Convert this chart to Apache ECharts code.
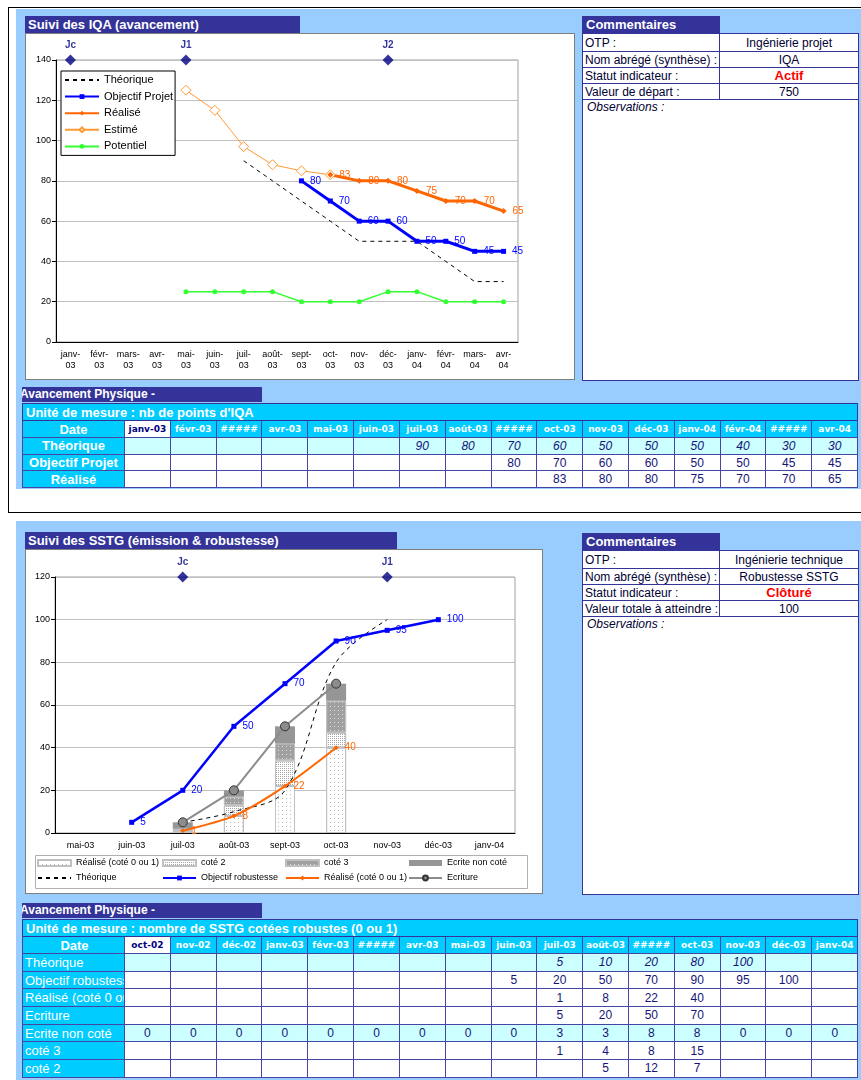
<!DOCTYPE html>
<html lang="fr">
<head>
<meta charset="utf-8">
<title>Suivi des indicateurs</title>
<script src="https://cdn.jsdelivr.net/npm/echarts@6.0.0/dist/echarts.min.js"></script>
<style>
html,body{margin:0;padding:0;background:#fff;}
body{width:861px;height:1080px;position:relative;overflow:hidden;font-family:"Liberation Sans",Arial,sans-serif;}
.fond{position:absolute;background:#99ccff;overflow:hidden;}
.trait{position:absolute;background:#000;}
.barre{position:absolute;background:#333399;color:#fff;font-weight:bold;font-size:13px;line-height:17px;height:17px;white-space:nowrap;overflow:hidden;box-sizing:border-box;padding-left:3px;}
.cadre{position:absolute;background:#fff;border:1px solid #7f7f7f;box-sizing:border-box;}
.graph{position:absolute;left:0;top:0;right:0;bottom:0;}
table{border-collapse:collapse;table-layout:fixed;position:absolute;}
td{padding:0;overflow:hidden;white-space:nowrap;box-sizing:border-box;}
table.com{width:276px;}
table.com td{border:1px solid #333399;font-size:12px;color:#000033;background:#fff;line-height:14px;}
table.com td.tit{background:#333399;color:#fff;font-weight:bold;font-size:13px;padding-left:3px;border-color:#333399;}
table.com td.vide{background:transparent;border:none;}
table.com td.lib{padding-left:2px;}
table.com td.val{text-align:center;}
table.com td.rouge{color:#ff0000;font-weight:bold;font-size:13px;}
table.com td.obs{font-style:italic;vertical-align:top;padding-left:4px;}
table.suivi{width:835px;}
table.suivi td{border:1px solid #4545a5;font-size:12px;color:#14147a;text-align:center;background:#fff;}
table.suivi td.unite{background:#00ccff;color:#fff;font-weight:bold;font-size:13px;text-align:left;padding-left:3px;border-color:#333399;}
table.suivi td.lib{background:#00ccff;color:#fff;font-weight:bold;font-size:13px;}
table.suivi.gauche td.lib{font-weight:normal;text-align:left;padding-left:2px;}
table.suivi td.date{background:#00ccff;color:#fff;font-weight:bold;font-family:"DejaVu Sans",Verdana,sans-serif;font-size:9px;}
table.suivi td.date.prem{background:#fff;color:#000080;}
table.suivi td.clair{background:#ccffff;}
table.suivi td.ital{font-style:italic;}
.titreTab{position:absolute;background:#333399;color:#fff;font-weight:bold;font-size:12px;line-height:15px;height:15px;width:240px;white-space:nowrap;overflow:hidden;text-indent:-2px;}
</style>
</head>
<body>
<script>
// ---------- Suivi des IQA ----------
const moisIQA = ['janv-03','févr-03','mars-03','avr-03','mai-03','juin-03','juil-03','août-03','sept-03','oct-03','nov-03','déc-03','janv-04','févr-04','mars-04','avr-04'];
const enteteIQA = ['janv-03','févr-03','#####','avr-03','mai-03','juin-03','juil-03','août-03','#####','oct-03','nov-03','déc-03','janv-04','févr-04','#####','avr-04'];
const theoIQA = [null,null,null,null,null,null,90,80,70,60,50,50,50,40,30,30];
const objIQA = [null,null,null,null,null,null,null,null,80,70,60,60,50,50,45,45];
const realIQA = [null,null,null,null,null,null,null,null,null,83,80,80,75,70,70,65];
const estimeIQA = [null,null,null,null,125,115,97,88,85,83,null,null,null,null,null,null];
const potentielIQA = [null,null,null,null,25,25,25,25,20,20,20,25,25,20,20,20];
const jalonsIQA = ['Jc','J1','J2'];
const moisJalonsIQA = ['janv-03','mai-03','déc-03'];
const comIQA = [['OTP :','Ingénierie projet'],['Nom abrégé (synthèse) :','IQA'],['Statut indicateur :','Actif'],['Valeur de départ :','750']];

// ---------- Suivi des SSTG ----------
const moisSSTG = ['oct-02','nov-02','déc-02','janv-03','févr-03','mars-03','avr-03','mai-03','juin-03','juil-03','août-03','sept-03','oct-03','nov-03','déc-03','janv-04'];
const enteteSSTG = ['oct-02','nov-02','déc-02','janv-03','févr-03','#####','avr-03','mai-03','juin-03','juil-03','août-03','#####','oct-03','nov-03','déc-03','janv-04'];
const debutGraphSSTG = 'mai-03';
const theoSSTG = [null,null,null,null,null,null,null,null,null,5,10,20,80,100,null,null];
const objSSTG = [null,null,null,null,null,null,null,null,5,20,50,70,90,95,100,null];
const realSSTG = [null,null,null,null,null,null,null,null,null,1,8,22,40,null,null,null];
const ecritureSSTG = [null,null,null,null,null,null,null,null,null,5,20,50,70,null,null,null];
const nonCoteSSTG = [0,0,0,0,0,0,0,0,0,3,3,8,8,0,0,0];
const cote3SSTG = [null,null,null,null,null,null,null,null,null,1,4,8,15,null,null,null];
const cote2SSTG = [null,null,null,null,null,null,null,null,null,null,5,12,7,null,null,null];
const jalonsSSTG = ['Jc','J1'];
const moisJalonsSSTG = ['juil-03','nov-03'];
const comSSTG = [['OTP :','Ingénierie technique'],['Nom abrégé (synthèse) :','Robustesse SSTG'],['Statut indicateur :','Clôturé'],['Valeur totale à atteindre :','100']];

function el(tag, cls, css, parent, html) {
  const e = document.createElement(tag);
  if (cls) e.className = cls;
  if (css) e.style.cssText = css;
  if (html !== undefined) e.innerHTML = html;
  (parent || document.body).appendChild(e);
  return e;
}

// page frame
const fondHaut = el('div', 'fond', 'left:16px;top:9px;width:845px;height:480px;');
const fondBas = el('div', 'fond', 'left:16px;top:521px;width:845px;height:559px;');
el('div', 'trait', 'left:8px;top:7px;width:853px;height:1px;');
el('div', 'trait', 'left:8px;top:7px;width:1px;height:505px;');
el('div', 'trait', 'left:8px;top:512px;width:853px;height:1px;');

function commentaires(parent, x, y, lignes, hObs) {
  const t = el('table', 'com', 'left:' + x + 'px;top:' + y + 'px;', parent);
  const cg = el('colgroup', null, null, t);
  el('col', null, 'width:137px', cg); el('col', null, 'width:139px', cg);
  let tr = el('tr', null, 'height:17px', t);
  el('td', 'tit', null, tr, 'Commentaires');
  el('td', 'vide', null, tr, '');
  lignes.forEach((l, i) => {
    tr = el('tr', null, 'height:' + (i === 0 ? 18 : 16) + 'px', t);
    el('td', 'lib', null, tr, l[0]);
    el('td', 'val' + (i === 2 ? ' rouge' : ''), null, tr, l[1]);
  });
  tr = el('tr', null, 'height:' + hObs + 'px', t);
  const o = el('td', 'obs', null, tr, 'Observations :');
  o.colSpan = 2;
}

function suivi(parent, x, y, unite, entetes, lignes, hLigne, gauche) {
  const t = el('table', 'suivi' + (gauche ? ' gauche' : ''), 'left:' + x + 'px;top:' + y + 'px;', parent);
  const cg = el('colgroup', null, null, t);
  el('col', null, 'width:102px', cg);
  entetes.forEach(() => el('col', null, 'width:45.8125px', cg));
  let tr = el('tr', null, 'height:17px', t);
  const u = el('td', 'unite', null, tr, unite);
  u.colSpan = entetes.length + 1;
  tr = el('tr', null, 'height:17px', t);
  el('td', 'lib', gauche ? 'text-align:center;font-weight:bold' : null, tr, 'Date');
  entetes.forEach((m, i) => el('td', 'date' + (i === 0 ? ' prem' : ''), null, tr, m));
  lignes.forEach(l => {
    tr = el('tr', null, 'height:' + hLigne + 'px', t);
    el('td', 'lib', null, tr, l.lib);
    l.vals.forEach(v => el('td', (l.clair ? 'clair' : '') + (l.ital ? ' ital' : ''), null, tr, v === null ? '' : String(v)));
  });
}

// ---------- top block ----------
el('div', 'barre', 'left:9px;top:7px;width:275px;', fondHaut, 'Suivi des IQA (avancement)');
const cadre1 = el('div', 'cadre', 'left:9px;top:24px;width:550px;height:347px;', fondHaut);
const graph1 = el('div', 'graph', null, cadre1);
commentaires(fondHaut, 566, 7, comIQA, 281);
el('div', 'titreTab', 'left:6px;top:378px;', fondHaut, 'Avancement Physique -');
suivi(fondHaut, 6, 394, "Unité de mesure : nb de points d'IQA", enteteIQA, [
  {lib: 'Théorique', vals: theoIQA, clair: true, ital: true},
  {lib: 'Objectif Projet', vals: objIQA},
  {lib: 'Réalisé', vals: realIQA}
], 16.7, false);

// ---------- bottom block ----------
el('div', 'barre', 'left:9px;top:11px;width:372px;', fondBas, 'Suivi des SSTG (émission &amp; robustesse)');
const cadre2 = el('div', 'cadre', 'left:9px;top:28px;width:518px;height:345px;', fondBas);
const graph2 = el('div', 'graph', null, cadre2);
commentaires(fondBas, 566, 12, comSSTG, 278);
el('div', 'titreTab', 'left:6px;top:382px;', fondBas, 'Avancement Physique -');
suivi(fondBas, 6, 398, 'Unité de mesure : nombre de SSTG cotées robustes (0 ou 1)', enteteSSTG, [
  {lib: 'Théorique', vals: theoSSTG, clair: true, ital: true},
  {lib: 'Objectif robustesse', vals: objSSTG},
  {lib: 'Réalisé (coté 0 ou 1)', vals: realSSTG},
  {lib: 'Ecriture', vals: ecritureSSTG},
  {lib: 'Ecrite non coté', vals: nonCoteSSTG, clair: true},
  {lib: 'coté 3', vals: cote3SSTG},
  {lib: 'coté 2', vals: cote2SSTG}
], 17.7, true);

// ---------- chart helpers ----------
const police = '"Liberation Sans", Arial, sans-serif';
const NOIR = '#000', BLEU = '#0000ff', ORANGE = '#ff6600', ORANGE_CLAIR = '#ff9933', VERT = '#33ff33', MARINE = '#000080';

function etiquette(color) {
  return {show: true, position: 'right', distance: 6, color: color, fontSize: 10, fontFamily: police};
}
function jalons(mois, noms, y) {
  return {
    type: 'scatter', name: 'jalons', data: mois.map(m => [m, y]), clip: false,
    symbol: 'diamond', symbolSize: 11, itemStyle: {color: MARINE}, z: 5,
    label: {show: true, position: 'top', distance: 4, color: MARINE, fontWeight: 'bold', fontSize: 10,
      fontFamily: police, formatter: p => noms[p.dataIndex]}
  };
}
function axeX(cats, deuxLignes, margin) {
  return {
    type: 'category', data: cats, boundaryGap: true,
    axisLine: {lineStyle: {color: NOIR}},
    axisTick: {length: 4, interval: 0, lineStyle: {color: NOIR}},
    axisLabel: {interval: 0, fontSize: 9, color: NOIR, margin: margin, lineHeight: 11, fontFamily: police,
      formatter: deuxLignes ? (v => v.replace('-', '-\n')) : (v => v)}
  };
}
function axeY(max) {
  return {
    type: 'value', min: 0, max: max, interval: 20,
    axisLine: {show: true, lineStyle: {color: NOIR}},
    axisTick: {show: true, length: 4, lineStyle: {color: NOIR}},
    axisLabel: {fontSize: 9, color: NOIR, margin: 5, fontFamily: police},
    splitLine: {lineStyle: {color: '#c0c0c0'}}
  };
}
// dashed reference line: its legend entry shows only the dashes
const legendeTheo = {name: 'Théorique', itemStyle: {opacity: 0}};

// ---------- IQA chart ----------
const c1 = echarts.init(graph1);
c1.setOption({
  animation: false,
  textStyle: {fontFamily: police},
  grid: {left: 30, top: 26, width: 462, height: 282, show: true, borderColor: '#a0a0a0', borderWidth: 1, backgroundColor: '#fff'},
  xAxis: axeX(moisIQA, true, 7),
  yAxis: axeY(140),
  legend: {
    orient: 'vertical', left: 35, top: 37, padding: [3, 2, 3, 3],
    backgroundColor: '#fff', borderColor: NOIR, borderWidth: 1,
    itemWidth: 34, itemHeight: 6, itemGap: 4.6,
    textStyle: {fontSize: 11, color: NOIR, lineHeight: 12, fontFamily: police},
    data: [legendeTheo, 'Objectif Projet', 'Réalisé', 'Estimé', 'Potentiel']
  },
  series: [
    {type: 'line', name: 'Théorique', data: theoIQA, symbol: 'none',
      lineStyle: {color: NOIR, width: 1, type: [4, 4]}, itemStyle: {color: NOIR}},
    {type: 'line', name: 'Potentiel', data: potentielIQA, symbol: 'circle', symbolSize: 5,
      lineStyle: {color: VERT, width: 1.5}, itemStyle: {color: VERT}},
    {type: 'line', name: 'Estimé', data: estimeIQA, symbol: 'diamond', symbolSize: 10,
      lineStyle: {color: ORANGE_CLAIR, width: 1}, itemStyle: {color: '#fff', borderColor: ORANGE_CLAIR, borderWidth: 1}},
    {type: 'line', name: 'Objectif Projet', data: objIQA, symbol: 'rect', symbolSize: 5,
      lineStyle: {color: BLEU, width: 3}, itemStyle: {color: BLEU}, label: etiquette(BLEU)},
    {type: 'line', name: 'Réalisé', data: realIQA, symbol: 'diamond', symbolSize: 6,
      lineStyle: {color: ORANGE, width: 3}, itemStyle: {color: ORANGE}, label: etiquette(ORANGE)},
    jalons(moisJalonsIQA, jalonsIQA, 140)
  ]
});

// ---------- SSTG chart ----------
const i0 = moisSSTG.indexOf(debutGraphSSTG);
const part = a => a.slice(i0);
const REAL_BARRE = 'Réalisé (coté 0 ou 1)';
const REAL_LIGNE = 'Réalisé (coté 0 ou 1) ';
const c2 = echarts.init(graph2);
const legendeCol = (left, noms) => ({
  orient: 'vertical', left: left, top: 307, padding: 0,
  itemWidth: 33, itemHeight: 6, itemGap: 3,
  textStyle: {fontSize: 9, color: NOIR, lineHeight: 12, fontFamily: police},
  data: noms
});
c2.setOption({
  animation: false,
  textStyle: {fontFamily: police},
  grid: {left: 29, top: 27, width: 460, height: 256, show: true, borderColor: '#a0a0a0', borderWidth: 1, backgroundColor: '#fff'},
  xAxis: axeX(part(moisSSTG), false, 7),
  yAxis: axeY(120),
  graphic: [{type: 'rect', left: 9, top: 305, shape: {width: 492, height: 33},
    style: {fill: '#fff', stroke: '#b0b0b0', lineWidth: 1}, z: -1, silent: true}],
  legend: [
    legendeCol(11, [{name: REAL_BARRE, icon: 'rect'}, legendeTheo]),
    legendeCol(136, [{name: 'coté 2', icon: 'rect'}, 'Objectif robustesse']),
    legendeCol(259, [{name: 'coté 3', icon: 'rect'}, REAL_LIGNE]),
    legendeCol(382, [{name: 'Ecrite non coté', icon: 'rect'}, 'Ecriture'])
  ],
  series: [
    {type: 'bar', name: REAL_BARRE, stack: 'ecrit', data: part(realSSTG), barWidth: 20,
      itemStyle: {color: '#ffffff', borderColor: '#c0c0c0', borderWidth: 1,
        decal: {symbol: 'rect', symbolSize: 1, color: '#b8b8b8', dashArrayX: [1, 3], dashArrayY: [1, 3]}}},
    {type: 'bar', name: 'coté 2', stack: 'ecrit', data: part(cote2SSTG), barWidth: 20,
      itemStyle: {color: '#ffffff', borderColor: '#c0c0c0', borderWidth: 1,
        decal: {symbol: 'rect', symbolSize: 1, color: '#a8a8a8', dashArrayX: [1, 1], dashArrayY: [1, 1]}}},
    {type: 'bar', name: 'coté 3', stack: 'ecrit', data: part(cote3SSTG), barWidth: 20,
      itemStyle: {color: '#a0a0a0', borderColor: '#c0c0c0', borderWidth: 1,
        decal: {symbol: 'rect', symbolSize: 1, color: '#e0e0e0', dashArrayX: [1, 3], dashArrayY: [1, 3]}}},
    {type: 'bar', name: 'Ecrite non coté', stack: 'ecrit', data: part(nonCoteSSTG), barWidth: 20,
      itemStyle: {color: '#969696', borderWidth: 0}},
    {type: 'line', name: 'Théorique', data: part(theoSSTG), symbol: 'none', smooth: 0.35,
      lineStyle: {color: NOIR, width: 1, type: [4, 4]}, itemStyle: {color: NOIR}},
    {type: 'line', name: 'Objectif robustesse', data: part(objSSTG), symbol: 'rect', symbolSize: 5,
      lineStyle: {color: BLEU, width: 2.5}, itemStyle: {color: BLEU}, label: etiquette(BLEU)},
    {type: 'line', name: REAL_LIGNE, data: part(realSSTG), symbol: 'diamond', symbolSize: 5, smooth: 0.25,
      lineStyle: {color: ORANGE, width: 2}, itemStyle: {color: ORANGE}, label: etiquette(ORANGE)},
    {type: 'line', name: 'Ecriture', data: part(ecritureSSTG), symbol: 'circle', symbolSize: 9,
      lineStyle: {color: '#8c8c8c', width: 2}, itemStyle: {color: '#8c8c8c', borderColor: '#333', borderWidth: 1}},
    jalons(moisJalonsSSTG, jalonsSSTG, 120)
  ]
});
</script>
</body>
</html>
